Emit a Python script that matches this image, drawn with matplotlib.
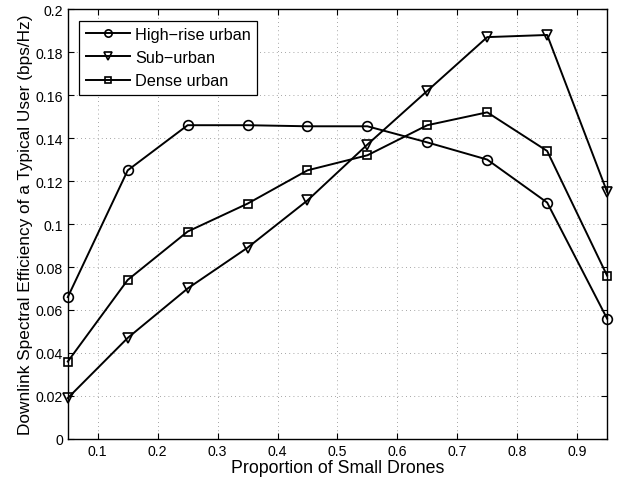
import numpy as np
import matplotlib
matplotlib.use('Agg')
import matplotlib.pyplot as plt

plt.rcParams['font.family'] = ['Liberation Sans', 'DejaVu Sans']

proportion = [0.05, 0.15, 0.25, 0.35, 0.45, 0.55, 0.65, 0.75, 0.85, 0.95]
high_rise = [0.066, 0.125, 0.146, 0.146, 0.1455, 0.1455, 0.138, 0.130, 0.110, 0.056]
sub_urban = [0.019, 0.047, 0.070, 0.089, 0.111, 0.137, 0.162, 0.187, 0.188, 0.115]
dense_urban = [0.036, 0.074, 0.0965, 0.1095, 0.125, 0.132, 0.146, 0.152, 0.134, 0.076]

xticks = [0.1, 0.2, 0.3, 0.4, 0.5, 0.6, 0.7, 0.8, 0.9]
yticks = [0, 0.02, 0.04, 0.06, 0.08, 0.1, 0.12, 0.14, 0.16, 0.18, 0.2]
ytick_labels = ['0', '0.02', '0.04', '0.06', '0.08', '0.1', '0.12', '0.14', '0.16', '0.18', '0.2']

fig = plt.figure(figsize=(6.22, 4.85), dpi=100)
ax = fig.add_axes([0.109, 0.093, 0.867, 0.886])

style = dict(color='black', linewidth=1.4, markerfacecolor='none',
             markeredgewidth=1.2, clip_on=False)
ax.plot(proportion, high_rise, marker='o', markersize=7, label='High\u2212rise urban', **style)
ax.plot(proportion, sub_urban, marker='v', markersize=7.5, label='Sub\u2212urban', **style)
ax.plot(proportion, dense_urban, marker='s', markersize=6, label='Dense urban', **style)

ax.set_xlim(0.05, 0.95)
ax.set_ylim(0, 0.2)
ax.set_xticks(xticks)
ax.set_xticklabels([f'{t:g}' for t in xticks])
ax.set_yticks(yticks)
ax.set_yticklabels(ytick_labels)
ax.tick_params(direction='in', top=True, right=True, labelsize=10.2, length=4)
ax.grid(True, linestyle=(0, (1, 4)), color='#888888', linewidth=0.6)
for s in ax.spines.values():
    s.set_linewidth(1.0)

ax.set_xlabel('Proportion of Small Drones', fontsize=12.8, labelpad=1)
ax.set_ylabel('Downlink Spectral Efficiency of a Typical User (bps/Hz)', fontsize=12.4,
              labelpad=2)

leg = ax.legend(loc='upper left', fontsize=11.7, fancybox=False, edgecolor='black',
                framealpha=1, handlelength=2.7, handletextpad=0.35, borderaxespad=0.7,
                labelspacing=0.5, markerscale=0.75)
leg.get_frame().set_linewidth(0.9)

fig.savefig('out.png', dpi=100)
